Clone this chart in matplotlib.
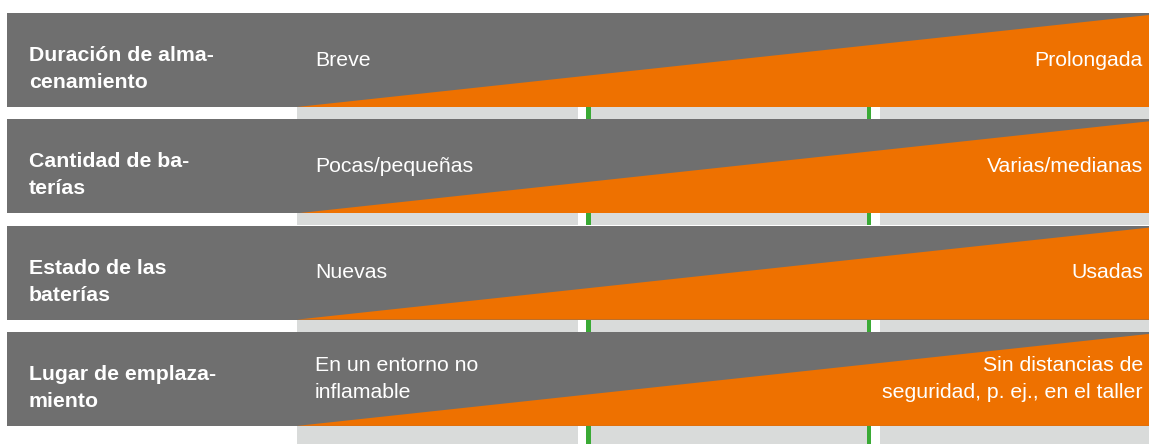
import matplotlib
matplotlib.use("Agg")
import matplotlib.pyplot as plt
from matplotlib.patches import Rectangle, Polygon

# Data
categories = ["Duración de alma-\ncenamiento", "Cantidad de ba-\nterías",
              "Estado de las\nbaterías", "Lugar de emplaza-\nmiento"]
low_labels = ["Breve", "Pocas/pequeñas", "Nuevas", "En un entorno no\ninflamable"]
high_labels = ["Prolongada", "Varias/medianas", "Usadas",
               "Sin distancias de\nseguridad, p. ej., en el taller"]
divider_positions = [0.342, 0.671]  # fractions along the scale

W, H = 1149, 444
DARK = "#6f6f6f"
ORANGE = "#ee7100"
LIGHT = "#d9dbda"
GREEN = "#3aaa35"

plt.rcParams['font.family'] = ['Liberation Sans', 'DejaVu Sans']
fig = plt.figure(figsize=(W/100, H/100), dpi=100)
ax = fig.add_axes([0, 0, 1, 1])
ax.set_xlim(0, W)
ax.set_ylim(H, 0)
ax.axis("off")

top0 = 13
pitch = 106.3
band_h = 94
strip_h = 12
x_left = 7
x_tri = 297
x_right = W
FS = 15.3
LS = 1.52

for i, (cat, lo, hi) in enumerate(zip(categories, low_labels, high_labels)):
    top = top0 + i * pitch
    bot = top + band_h
    ax.add_patch(Rectangle((x_left, top), x_right - x_left, band_h, color=DARK, lw=0))
    ax.add_patch(Polygon([(x_tri, bot), (x_right, top + 2), (x_right, bot)],
                         closed=True, color=ORANGE, lw=0))
    strip_bot = bot + strip_h if i < len(categories) - 1 else H
    ax.add_patch(Rectangle((x_tri, bot), x_right - x_tri, strip_bot - bot, color=LIGHT, lw=0))
    span = x_right - x_tri
    for j, f in enumerate(divider_positions):
        xc = x_tri + f * span
        if j == 0:
            ax.add_patch(Rectangle((xc - 10.5, bot), 8, strip_bot - bot, color="white", lw=0))
            ax.add_patch(Rectangle((xc - 2.5, bot), 5, strip_bot - bot, color=GREEN, lw=0))
        else:
            ax.add_patch(Rectangle((xc - 2, bot), 4, strip_bot - bot, color=GREEN, lw=0))
            ax.add_patch(Rectangle((xc + 2, bot), 9, strip_bot - bot, color="white", lw=0))
    cy = (top + bot) / 2
    ax.text(29, cy + 9, cat, color="white", fontsize=FS, fontweight="bold",
            va="center", ha="left", linespacing=LS)
    ax.text(315, cy, lo, color="white", fontsize=FS, va="center", ha="left",
            linespacing=LS)
    ax.text(1143, cy, hi, color="white", fontsize=FS, va="center", ha="right",
            linespacing=LS)

fig.savefig("out.png", dpi=100)
